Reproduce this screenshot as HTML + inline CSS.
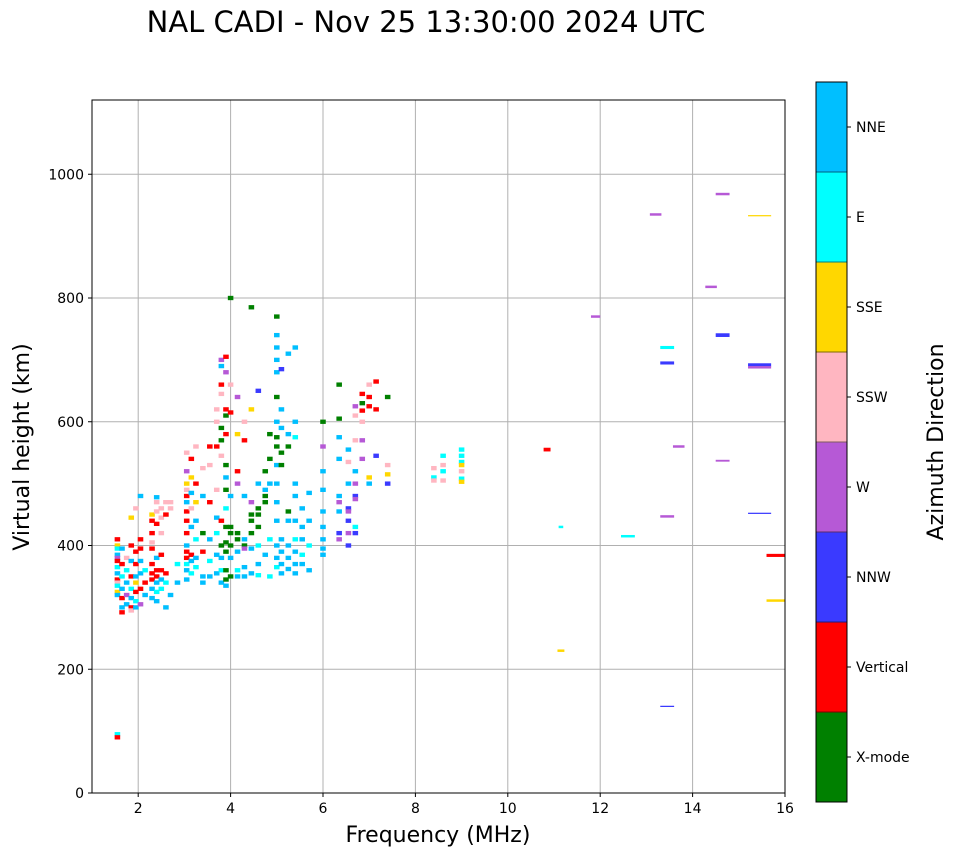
<!DOCTYPE html>
<html><head><meta charset="utf-8"><style>
body{margin:0;background:#fff;}
svg text{font-family:"DejaVu Sans","Liberation Sans",sans-serif;fill:#000;}
</style></head><body>
<svg id="chart" width="958" height="857" viewBox="0 0 958 857" xmlns="http://www.w3.org/2000/svg">
<text x="426" y="32" font-size="29" text-anchor="middle">NAL CADI - Nov 25 13:30:00 2024 UTC</text>
<g id="grid"></g>
<g id="marks"></g>
<rect x="92" y="100" width="693" height="693" fill="none" stroke="#000" stroke-width="1"/>
<g id="axes"></g>
<text x="438" y="842" font-size="22" text-anchor="middle">Frequency (MHz)</text>
<text transform="translate(29,447) rotate(-90)" font-size="22" text-anchor="middle">Virtual height (km)</text>
<g id="cbar"></g>
<text transform="translate(943,442) rotate(-90)" font-size="22" text-anchor="middle">Azimuth Direction</text>
</svg>
<script>
const xTicks=[2,4,6,8,10,12,14,16];
const yTicks=[0,200,400,600,800,1000];
const dirNames=["X-mode","Vertical","NNW","W","SSW","SSE","E","NNE"];
const dirCodes="GRBWPYEN";
const dirColors=["#008000","#ff0000","#3a3aff","#b659d6","#ffb6c1","#ffd700","#00ffff","#00bfff"];
const freqs=[1.55,1.65,1.75,1.85,1.95,2.05,2.15,2.3,2.4,2.5,2.6,2.7,2.85,3.05,3.15,3.25,3.4,3.55,3.7,3.8,3.9,4.0,4.15,4.3,4.45,4.6,4.75,4.85,5.0,5.1,5.25,5.4,5.55,5.7,6.0,6.35,6.55,6.7,6.85,7.0,7.15,7.4,8.4,8.6,9.0];
const heights=[
[410,400,395,385,380,375,365,355,345,340,335,325,320,95,90],
[395,370,350,330,315,300,292],
[380,360,340,320,305],
[445,400,375,350,330,315,300,295],
[460,390,370,350,340,325,310,300],
[480,410,395,375,355,330,305],
[360,340,320],
[450,440,420,405,395,370,355,345,330,315],
[478,470,455,435,380,360,350,340,325,310],
[460,445,420,385,360,345,330],
[470,450,355,340,300],
[470,460,320],
[370,340],
[550,520,500,490,480,470,455,440,420,400,390,380,370,360,345],
[540,510,485,460,430,385,375,355],
[560,500,470,440,410,380,365],
[525,480,420,390,350,340],
[560,530,470,410,375,350],
[620,600,560,490,445,420,385,355],
[700,690,660,645,590,570,545,440,400,380,360,340],
[705,680,620,610,580,530,510,490,460,430,405,390,360,345,335],
[800,660,615,480,430,420,400,380,350],
[640,580,520,500,420,410,390,360,350],
[600,570,480,410,400,395,365,350],
[785,620,470,450,440,420,395,355],
[650,500,460,450,430,400,370,352],
[520,490,480,470,385],
[580,540,500,410,350],
[770,740,720,700,680,640,600,575,560,530,500,470,440,400,380,365],
[685,620,590,550,530,410,390,370,355],
[710,580,560,455,440,400,380,362],
[720,600,575,500,480,440,410,390,370,355],
[460,430,410,385,370],
[485,440,400,360],
[600,560,520,490,455,430,410,395,385],
[660,605,575,540,480,470,455,420,410],
[555,535,500,460,455,440,420,400],
[625,610,570,520,500,480,475,430,420],
[645,630,618,600,570,540],
[660,640,625,510,500],
[665,620,545],
[640,530,515,500],
[525,510,505],
[545,530,520,505],
[555,545,535,530,520,508,503]];
const dirs=["RYENWRENRPEYNER","NRENRNR","PENWN","YRNRENRP","PRRNYREN","NRRNNRW","ERN","YRRPRRRRNN","NPPRNRRNEN","PPPRRNE","PRREN","PPN","EN","PWYPRNRRRNRRENN","RYNPNRNE","PRYNENE","PNGRNN","RPRNEN","PPRPNENN","WNRPGGPRGNEN","RWRGRGNGEGGGGGN","GPRNGGGNG","WYRWGGNEN","PRNNGWNN","GYWGGGNN","BNGGGENE","GNGGN","GGNEE","GNNNNGNGGNNNNNNE","BNNGGNNNN","NNGGNNNN","NNENNNENNN","NNNEN","NNEN","GWNNNNNNN","GGNNNWNBW","NPNBWBWB","WPPNWBWEB","RGRPWW","PRRYN","RRB","GPYB","PEP","EPEP","EEEYPEY"];
const isoFreq=[10.85,11.15,11.15,11.9,12.6,13.2,13.45,13.45,13.45,13.45,13.7,14.4,14.65,14.65,14.65,15.45,15.45,15.45,15.45,15.8,15.8];
const isoHeight=[555,430,230,770,415,935,720,695,447,140,560,818,968,740,537,692,688,933,452,384,311];
const isoDir="REYWEWEBWBWWWBWBWYBRY";
const isoSpan=[0.15,0.1,0.15,0.2,0.3,0.25,0.3,0.3,0.3,0.3,0.25,0.25,0.3,0.3,0.3,0.5,0.5,0.5,0.5,0.4,0.4];
const isoThick=[6,4,4,4,4,4,5,5,4,2,4,4,4,6,3,5,4,2,2,5,4];
const NS="http://www.w3.org/2000/svg";
const X0=92,X1=785,Y0=793,Y1=100,FMIN=1,FMAX=16,HMAX=1120;
function xs(f){return X0+(f-FMIN)/(FMAX-FMIN)*(X1-X0);}
function ys(h){return Y0-h/HMAX*(Y0-Y1);}
function mk(tag,attrs,parent){const e=document.createElementNS(NS,tag);for(const k in attrs)e.setAttribute(k,attrs[k]);parent.appendChild(e);return e;}
const grid=document.getElementById('grid'),axes=document.getElementById('axes'),marks=document.getElementById('marks'),cbar=document.getElementById('cbar');
xTicks.forEach(t=>{const x=xs(t);
 const g=mk('line',{x1:x,x2:x,y1:Y1,y2:Y0,stroke:'#b0b0b0','stroke-width':1},grid);
 
 
 mk('line',{x1:x,x2:x,y1:Y0,y2:Y0+4,stroke:'#000'},axes);
 const tx=mk('text',{x:x,y:Y0+20,'font-size':14,'text-anchor':'middle'},axes);tx.textContent=t;
 
 });
yTicks.forEach(t=>{const y=ys(t);
 const g=mk('line',{x1:X0,x2:X1,y1:y,y2:y,stroke:'#b0b0b0','stroke-width':1},grid);
 
 
 mk('line',{x1:X0-4,x2:X0,y1:y,y2:y,stroke:'#000'},axes);
 const tx=mk('text',{x:X0-8,y:y+5,'font-size':14,'text-anchor':'end'},axes);tx.textContent=t;
 
 });
freqs.forEach((f,i)=>{heights[i].forEach((h,j)=>{const c=dirCodes.indexOf(dirs[i][j]);
 const r=mk('rect',{x:xs(f-0.06),y:ys(h+3.5),width:xs(f+0.06)-xs(f-0.06),height:ys(h-3.5)-ys(h+3.5),fill:dirColors[c]},marks);
 
 });});
isoFreq.forEach((f,i)=>{const c=dirCodes.indexOf(isoDir[i]);const th=isoThick[i]/2;
 const r=mk('rect',{x:xs(f-isoSpan[i]/2),y:ys(isoHeight[i]+th),width:xs(f+isoSpan[i]/2)-xs(f-isoSpan[i]/2),height:ys(isoHeight[i]-th)-ys(isoHeight[i]+th),fill:dirColors[c]},marks);
 
 });
const CB0=82,CB1=802,CX=816,CW=31,seg=(CB1-CB0)/dirNames.length;
dirNames.forEach((n,i)=>{const yb=CB1-(i+1)*seg;
 const r=mk('rect',{x:CX,y:yb,width:CW,height:seg+0.5,fill:dirColors[i]},cbar);
 
 
 mk('line',{x1:CX+CW,x2:CX+CW+4,y1:yb+seg/2,y2:yb+seg/2,stroke:'#000'},cbar);
 const t=mk('text',{x:CX+CW+9,y:yb+seg/2+5,'font-size':14},cbar);t.textContent=n;
 
 });
for(let i=0;i<=dirNames.length;i++){const y=CB0+i*seg;mk('line',{x1:CX,x2:CX+CW,y1:y,y2:y,stroke:'#000','stroke-width':0.6},cbar);}
mk('rect',{x:CX,y:CB0,width:CW,height:CB1-CB0,fill:'none',stroke:'#000','stroke-width':1},cbar);
</script>
</body></html>
